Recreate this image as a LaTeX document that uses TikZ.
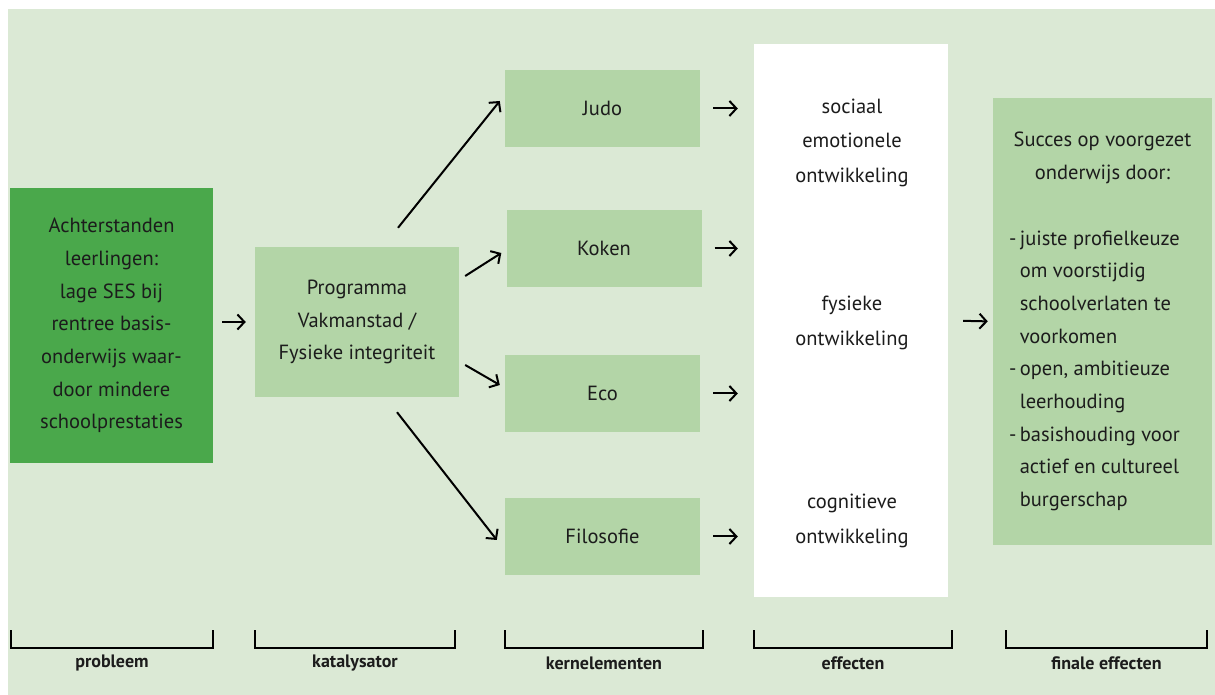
\documentclass[tikz,border=0pt]{standalone}
\usepackage{fontspec}
\setmainfont{PT Sans}
\usetikzlibrary{arrows.meta}

\definecolor{bggreen}{HTML}{DBE9D5}
\definecolor{darkgreen}{HTML}{4AA84B}
\definecolor{boxgreen}{HTML}{B3D5A7}
\definecolor{txtcol}{HTML}{1C1C1C}

\newcommand{\contline}{\phantom{-\,}}

\tikzset{
    every picture/.style={x=1pt,y=1pt},
    box/.style={fill=boxgreen, inner sep=0pt, align=center, text=txtcol,
        font=\fontsize{20.5}{32.7}\selectfont},
    probbox/.style={box, fill=darkgreen, minimum width=203pt, minimum height=275pt},
    catbox/.style={box, minimum width=204pt, minimum height=150pt},
    kernbox/.style={box, minimum width=195pt, minimum height=77pt},
    effbox/.style={fill=white, inner sep=0pt, minimum width=194pt, minimum height=553pt},
    efftext/.style={align=center, inner sep=0pt, text=txtcol, font=\fontsize{20.5}{34.5}\selectfont},
    finbox/.style={box, minimum width=219pt, minimum height=447pt, text width=187pt, align=none},
    arr/.style={->, line width=2pt, >={Straight Barb[length=7pt,width=15pt]}},
    bracket/.style={line width=1.7pt, line cap=rect},
    collabel/.style={text=txtcol, font=\bfseries\fontsize{18}{20}\selectfont}
}

\begin{document}
\begin{tikzpicture}
    % Background
    \useasboundingbox (0,0) rectangle (1215,695);
    \fill[bggreen] (8,0) rectangle (1215,686);

    % Problem and catalyst
    \node[probbox] (prob) at (111.5,369.5) {Achterstanden\\leerlingen:\\lage SES bij\\rentree basis-\\onderwijs waar-\\door mindere\\schoolprestaties};
    \node[catbox] (prog) at (357,373) {Programma\\Vakmanstad /\\Fysieke integriteit};

    % Core elements
    \node[kernbox] (judo) at (602.5,586.5) {Judo};
    \node[kernbox] (koken) at (604,446.5) {Koken};
    \node[kernbox] (eco) at (602.5,301.5) {Eco};
    \node[kernbox] (filo) at (602.5,158.5) {Filosofie};

    % Effects (white column)
    \node[effbox] (eff) at (851,374.5) {};
    \node[efftext] (soc) at (852,552.5) {sociaal\\emotionele\\ontwikkeling};
    \node[efftext] (fys) at (852,372) {fysieke\\ontwikkeling};
    \node[efftext] (cog) at (852,174) {cognitieve\\ontwikkeling};

    % Final effects
    \node[finbox] (fin) at (1102.5,373.5) {%
        {\centering Succes op voorgezet\\onderwijs door:\par}
        \vspace{33pt}
        \raggedright
        -\,juiste profielkeuze\\\contline om voorstijdig\\\contline schoolverlaten te\\\contline voorkomen\\
        -\,open, ambitieuze\\\contline leerhouding\\
        -\,basishouding voor\\\contline actief en cultureel\\\contline burgerschap\par};

    % Arrows between the columns
    \draw[arr, shorten <=9pt, shorten >=9pt] (prob.east |- prog.west) -- (prog.west);
    \foreach \k in {judo,koken,eco,filo} {
        \draw[arr, shorten <=13pt, shorten >=16pt] (\k.east) -- (\k.east -| eff.west);
    }
    \draw[arr, shorten <=15pt, shorten >=5pt] (eff.east) -- (fin.west);

    % Catalyst fans out to the core elements
    \draw[arr] ([shift={(41,19)}]prog.north) -- ([shift={(-5,7.5)}]judo.west);
    \draw[arr] ([shift={(6,46)}]prog.east) -- ([shift={(-5,-4.5)}]koken.west);
    \draw[arr] ([shift={(6,-43)}]prog.east) -- ([shift={(-5,8.5)}]eco.west);
    \draw[arr] ([shift={(40,-15)}]prog.south) -- ([shift={(-8,-3.5)}]filo.west);

    % Column brackets with labels
    \foreach \xa/\xb/\lbl [count=\i] in {11/213/probleem, 255/455/katalysator, 505/703/kernelementen, 754/952/effecten, 1006/1207/finale effecten} {
        \draw[bracket] (\xa,64) -- (\xa,47) -- (\xb,47) -- (\xb,64);
        \node[collabel] (col\i) at ({(\xa+\xb)/2},32) {\lbl};
    }
\end{tikzpicture}
\end{document}
